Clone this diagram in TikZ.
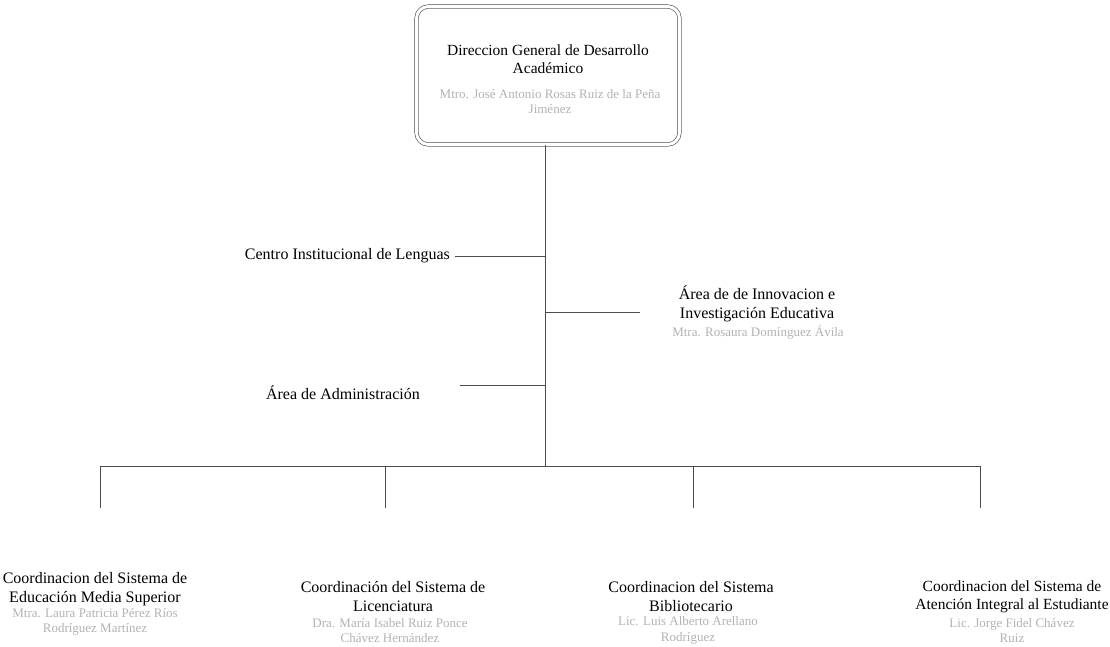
\documentclass[tikz,border=0pt]{standalone}
\usepackage{fontspec}
\setmainfont{Liberation Serif}

\tikzset{
  unidad/.style={align=center, inner sep=0pt, font=\fontsize{16}{19}\selectfont},
  titular/.style={align=center, inner sep=0pt, text=black!30, font=\fontsize{13}{15.5}\selectfont},
  linea/.style={draw=black!70, line width=0.7pt},
  direccion/.style={draw=black!70, line width=0.6pt, double, double distance=3pt,
    rounded corners=12pt, minimum width=263pt, minimum height=138pt}
}

\begin{document}
\begin{tikzpicture}[x=1pt, y=-1pt]
        \useasboundingbox (0,0) rectangle (1110,646);

        % direccion general
        \node[direccion] (dg) at (548,75.5) {};
        \node[unidad, font=\fontsize{15.5}{18}\selectfont] (dgt) at (548,59) {Direccion General de Desarrollo\\Académico};
        \node[titular] (dgn) at (550,101.5) {Mtro. José Antonio Rosas Ruiz de la Peña\\Jiménez};

        % tronco y barra
        \coordinate (bus) at (545,466);
        \draw[linea] (bus |- dg.south) to (bus);

        % areas laterales
        \node[unidad, anchor=east] (cil) at (450,256) {Centro Institucional de Lenguas};
        \coordinate (cilr) at (455,256);
        \draw[linea] (cilr) to (cilr -| bus);

        \node[unidad] (aie) at (757,304) {Área de de Innovacion e\\Investigación Educativa};
        \node[titular] (aien) at (758,332) {Mtra. Rosaura Domínguez Ávila};
        \coordinate (aiel) at (640,312);
        \draw[linea] (aiel -| bus) to (aiel);

        \node[unidad, anchor=east] (adm) at (420,393) {Área de Administración};
        \coordinate (admr) at (460,385);
        \draw[linea] (admr) to (admr -| bus);

        % coordinaciones
        \coordinate (b1) at (100,466);
        \coordinate (b2) at (385,466);
        \coordinate (b3) at (693,466);
        \coordinate (b4) at (980,466);
        \coordinate (d1) at (100,508);
        \coordinate (d2) at (385,508);
        \coordinate (d3) at (693,508);
        \coordinate (d4) at (980,508);
        \draw[linea] (d1) to (b1) to (b4) to (d4);
        \draw[linea] (b2) to (d2);
        \draw[linea] (b3) to (d3);

        \node[unidad] (cems) at (95,589) {Coordinacion del Sistema de\\Educación Media Superior};
        \node[titular] (cemsn) at (95,622) {Mtra. Laura Patricia Pérez Ríos\\Rodríguez Martínez};

        \node[unidad] (csl) at (393,597) {Coordinación del Sistema de\\Licenciatura};
        \node[titular] (csln) at (390,630.5) {Dra. María Isabel Ruiz Ponce\\Chávez Hernández};

        \node[unidad] (csb) at (691,597) {Coordinacion del Sistema\\Bibliotecario};
        \node[titular] (csbn) at (688,630.5) {Lic. Luis Alberto Arellano\\Rodríguez};

        \node[unidad, font=\fontsize{15.5}{18.5}\selectfont] (csa) at (1012,597) {Coordinacion del Sistema de\\Atención Integral al Estudiante};
        \node[titular] (csan) at (1012,630.5) {Lic. Jorge Fidel Chávez\\Ruiz};
    \end{tikzpicture}
\end{document}
